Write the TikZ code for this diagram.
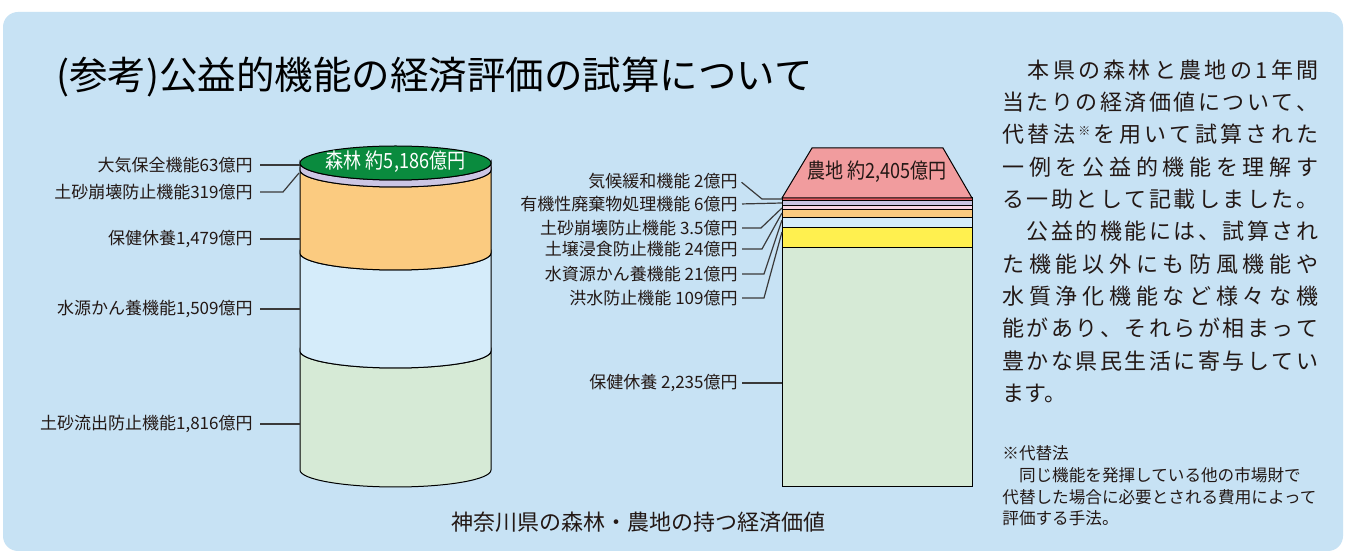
\documentclass[tikz,border=0pt]{standalone}
\usepackage{fontspec}
\setmainfont{Noto Sans CJK JP}
\definecolor{panel}{HTML}{C7E2F4}
\definecolor{txt}{HTML}{231815}
\definecolor{lnc}{HTML}{3A3A3A}
\definecolor{fgreen}{HTML}{0A8B3E}
\definecolor{flav}{HTML}{CCC6E4}
\definecolor{forange}{HTML}{FBCB80}
\definecolor{fblue}{HTML}{D5ECFA}
\definecolor{fpale}{HTML}{D6EAD6}
\definecolor{apink}{HTML}{F19C9E}
\definecolor{ared}{HTML}{E2595E}
\definecolor{alav}{HTML}{C9C4E2}
\definecolor{alpink}{HTML}{F8D5E2}
\definecolor{ayellow}{HTML}{FFF04F}
\newcommand\kome{\raisebox{0.35em}{\fontsize{6pt}{6pt}\selectfont ※}}
\def\jlinei#1{#1\jlineii}
\def\jlineii#1{\ifx#1\relax\else\hfil#1\expandafter\jlineii\fi}
\newcommand\jline[1]{\hbox to 158pt{\jlinei#1\relax}}
\tikzset{
  lab/.style={anchor=east,inner sep=1pt,text=txt,font=\fontsize{8.5pt}{10pt}\selectfont},
  rtext/.style={anchor=west,inner sep=0pt,text=txt,font=\fontsize{11pt}{13pt}\selectfont},
  foot/.style={anchor=west,inner sep=0pt,text=txt,font=\fontsize{8.3pt}{10pt}\selectfont},
  band/.style={draw=black,line width=0.5pt},
  conn/.style={draw=lnc,line width=0.6pt},
}
\begin{document}
\begin{tikzpicture}[x=0.5pt,y=-0.5pt]
\useasboundingbox (0,0) rectangle (1345,555);
\fill[white] (0,0) rectangle (1345,555);
\fill[panel,rounded corners=7.5pt] (3,12) rectangle (1343,551);

% title
\node[anchor=west,inner sep=0pt,text=black,font=\fontsize{19.25pt}{22pt}\selectfont] (title) at (56,77) {(参考)公益的機能の経済評価の試算について};

% ---------- forest cylinder ----------
\def\rx{47.75pt}\def\ry{8.5pt}
\fill[fpale,band] (300,351) arc[start angle=180,end angle=360,x radius=\rx,y radius=\ry] -- (491,470) arc[start angle=0,end angle=-180,x radius=\rx,y radius=\ry] -- cycle;
\fill[fblue,band] (300,253) arc[start angle=180,end angle=360,x radius=\rx,y radius=\ry] -- (491,351) arc[start angle=0,end angle=-180,x radius=\rx,y radius=\ry] -- cycle;
\fill[forange,band] (300,170) arc[start angle=180,end angle=360,x radius=\rx,y radius=\ry] -- (491,253) arc[start angle=0,end angle=-180,x radius=\rx,y radius=\ry] -- cycle;
\fill[flav,band] (300,163) arc[start angle=180,end angle=360,x radius=\rx,y radius=\ry] -- (491,170) arc[start angle=0,end angle=-180,x radius=\rx,y radius=\ry] -- cycle;
\fill[fgreen,band] (395.5,163) ellipse[x radius=\rx,y radius=\ry];
\node[text=white,inner sep=0pt,font=\fontsize{10.5pt}{12pt}\selectfont] (forest) at (395.5,162) {\scalebox{0.86}[1]{森林 約5,186億円}};

% forest labels
\node[lab] (f1) at (255,165) {大気保全機能63億円};
\node[lab] (f2) at (255,192) {土砂崩壊防止機能319億円};
\node[lab] (f3) at (255,239) {保健休養1,479億円};
\node[lab] (f4) at (255,309) {水源かん養機能1,509億円};
\node[lab] (f5) at (255,424) {土砂流出防止機能1,816億円};
\coordinate (c1) at (300,165);
\coordinate (c2b) at (283,192);
\coordinate (c2) at (299,173);
\coordinate (c3) at (300,239);
\coordinate (c4) at (300,309);
\coordinate (c5) at (300,424);
\draw[conn,shorten <=2.5pt] (f1.east) -- (c1);
\draw[conn,shorten <=2.5pt] (f2.east) -- (c2b) -- (c2);
\draw[conn,shorten <=2.5pt] (f3.east) -- (c3);
\draw[conn,shorten <=2.5pt] (f4.east) -- (c4);
\draw[conn,shorten <=2.5pt] (f5.east) -- (c5);

% ---------- farmland ----------
\fill[fpale,band] (782,248) rectangle (972,487);
\fill[ayellow,band] (782,227.5) rectangle (972,248);
\fill[fblue,band] (782,218) rectangle (972,227.5);
\fill[forange,band] (782,210) rectangle (972,218);
\fill[alpink,band] (782,205.5) rectangle (972,210);
\fill[alav,band] (782,200.5) rectangle (972,205.5);
\fill[ared,band] (782,198) rectangle (972,200.5);
\fill[apink,band] (812,148) -- (943,148) -- (972,198) -- (782,198) -- cycle;
\node[text=txt,inner sep=0pt,font=\fontsize{10.5pt}{12pt}\selectfont] (farm) at (877,172) {\scalebox{0.86}[1]{農地 約2,405億円}};

% farmland labels
\node[lab] (g1) at (740,181) {気候緩和機能 2億円};
\node[lab] (g2) at (740,204) {有機性廃棄物処理機能 6億円};
\node[lab] (g3) at (740,228) {土砂崩壊防止機能 3.5億円};
\node[lab] (g4) at (740,249) {土壌浸食防止機能 24億円};
\node[lab] (g5) at (740,274) {水資源かん養機能 21億円};
\node[lab] (g6) at (740,298) {洪水防止機能 109億円};
\node[lab] (g7) at (740,383) {保健休養 2,235億円};
\coordinate (d1b) at (762,199); \coordinate (d1) at (782,199);
\coordinate (d2) at (782,203);
\coordinate (d3b) at (761,228); \coordinate (d3) at (782,208);
\coordinate (d4b) at (762,249); \coordinate (d4) at (782,213);
\coordinate (d5b) at (764,274); \coordinate (d5) at (782,220);
\coordinate (d6b) at (764,298); \coordinate (d6) at (782,232);
\coordinate (d7) at (782,383);
\draw[conn,shorten <=1pt] (g1.east) -- (d1b) -- (d1);
\draw[conn,shorten <=1pt] (g2.east) -- (d2);
\draw[conn,shorten <=1pt] (g3.east) -- (d3b) -- (d3);
\draw[conn,shorten <=1pt] (g4.east) -- (d4b) -- (d4);
\draw[conn,shorten <=1pt] (g5.east) -- (d5b) -- (d5);
\draw[conn,shorten <=1pt] (g6.east) -- (d6b) -- (d6);
\draw[conn,shorten <=1pt] (g7.east) -- (d7);

% caption
\node[text=txt,inner sep=0pt,font=\fontsize{11pt}{13pt}\selectfont] (cap) at (638,522) {神奈川県の森林・農地の持つ経済価値};

% right text
\node[rtext] (r1) at (1002,70) {\jline{　本県の森林と農地の1年間}};
\node[rtext] (r2) at (1002,102.3) {\jline{当たりの経済価値について、}};
\node[rtext] (r3) at (1002,134.6) {\jline{代替法\kome を用いて試算された}};
\node[rtext] (r4) at (1002,166.9) {\jline{一例を公益的機能を理解す}};
\node[rtext] (r5) at (1002,199.2) {\jline{る一助として記載しました。}};
\node[rtext] (r6) at (1002,231.5) {\jline{　公益的機能には、試算され}};
\node[rtext] (r7) at (1002,263.8) {\jline{た機能以外にも防風機能や}};
\node[rtext] (r8) at (1002,296.1) {\jline{水質浄化機能など様々な機}};
\node[rtext] (r9) at (1002,328.4) {\jline{能があり、それらが相まって}};
\node[rtext] (r10) at (1002,360.7) {\jline{豊かな県民生活に寄与してい}};
\node[rtext] (r11) at (1002,393) {ます。};

% footnote
\node[foot] (n1) at (1002,453) {※代替法};
\node[foot] (n2) at (1002,475) {　同じ機能を発揮している他の市場財で};
\node[foot] (n3) at (1002,497) {代替した場合に必要とされる費用によって};
\node[foot] (n4) at (1002,518) {評価する手法。};
\end{tikzpicture}
\end{document}
